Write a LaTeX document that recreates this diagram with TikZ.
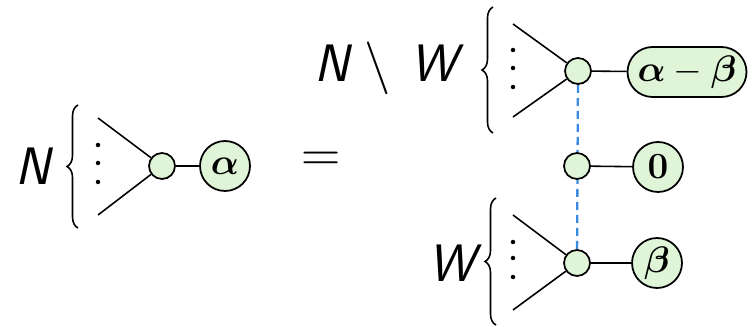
\RequirePackage{fix-cm}
\documentclass[tikz,border=0pt]{standalone}
\usepackage{amsmath,amssymb,bm}
\usepackage{xcolor}
\usetikzlibrary{decorations.pathreplacing, backgrounds}

\definecolor{nodegreen}{RGB}{224,245,216}
\definecolor{linkblue}{RGB}{58,138,222}

\begin{document}
\begin{tikzpicture}[
x=0.02cm, y=-0.02cm,
vertex/.style={
circle,
draw,
fill=nodegreen,
line width=1pt,
minimum size=0.52cm,
inner sep=0pt
},
charge/.style={
circle,
draw,
fill=nodegreen,
line width=1pt,
minimum size=1cm,
inner sep=0pt,
font=\fontsize{21}{25}\selectfont
},
pill/.style={
rectangle,
draw,
fill=nodegreen,
rounded corners=0.5cm,
line width=1pt,
minimum width=2.38cm,
minimum height=1cm,
inner sep=0pt,
font=\fontsize{21}{25}\selectfont
},
leg/.style={
line width=0.9pt
},
setbrace/.style={
decorate,
decoration={brace, amplitude=0.22cm},
line width=0.9pt
},
setlabel/.style={
font=\fontsize{30}{36}\selectfont\sffamily\itshape
},
dashlink/.style={
linkblue,
line width=1.3pt,
dash pattern=on 0.16cm off 0.1cm
}
]
\useasboundingbox (0,0) rectangle (753,327);

% left side: N
\node[setlabel] (lblN) at (33,166) {N};
\coordinate (braceNbot) at (78,228);
\coordinate (braceNtop) at (78,105);
\draw[setbrace] (braceNbot) -- (braceNtop);
\node[vertex] (vN) at (162,166) {};
\node[charge] (qN) at (225,166) {$\bm{\alpha}$};
\coordinate (legNa) at (98,118);
\coordinate (legNb) at (98,215);
\draw[leg] (legNa) -- (vN);
\draw[leg] (legNb) -- (vN);
\fill (98,145) circle (0.045cm) (98,163) circle (0.045cm) (98,182) circle (0.045cm);
\draw[leg] (vN) -- (qN);

\node[font=\fontsize{31}{36}\selectfont] (eq) at (321,162) {$=$};

% right side, top: N \ W
\node[setlabel] (lblNW) at (386,68) {N\hspace{0.3cm}$\setminus$\hspace{0.4cm}W};
\coordinate (braceTbot) at (493,133);
\coordinate (braceTtop) at (493,7);
\draw[setbrace] (braceTbot) -- (braceTtop);
\node[vertex] (vTop) at (578,71) {};
\node[pill] (qTop) at (687,72) {$\bm{\alpha}-\bm{\beta}$};
\coordinate (legTa) at (513,24);
\coordinate (legTb) at (513,117);
\draw[leg] (legTa) -- (vTop);
\draw[leg] (legTb) -- (vTop);
\fill (513,50) circle (0.045cm) (513,68) circle (0.045cm) (513,87) circle (0.045cm);
\draw[leg] (vTop) -- (qTop);

% right side, middle
\node[vertex] (vMid) at (577,166) {};
\node[charge] (qMid) at (658,167) {$\mathbf{0}$};
\draw[leg] (vMid) -- (qMid);

% right side, bottom: W
\node[setlabel] (lblW) at (452,263) {W};
\coordinate (braceBbot) at (496,325);
\coordinate (braceBtop) at (496,198);
\draw[setbrace] (braceBbot) -- (braceBtop);
\node[vertex] (vBot) at (577,263) {};
\node[charge] (qBot) at (657,263) {$\bm{\beta}$};
\coordinate (legBa) at (513,215);
\coordinate (legBb) at (513,310);
\draw[leg] (legBa) -- (vBot);
\draw[leg] (legBb) -- (vBot);
\fill (513,242) circle (0.045cm) (513,258) circle (0.045cm) (513,277) circle (0.045cm);
\draw[leg] (vBot) -- (qBot);

% dashed link behind the middle vertex
\begin{pgfonlayer}{background}
\draw[dashlink] (vTop) -- (vBot);
\end{pgfonlayer}

\end{tikzpicture}
\end{document}
